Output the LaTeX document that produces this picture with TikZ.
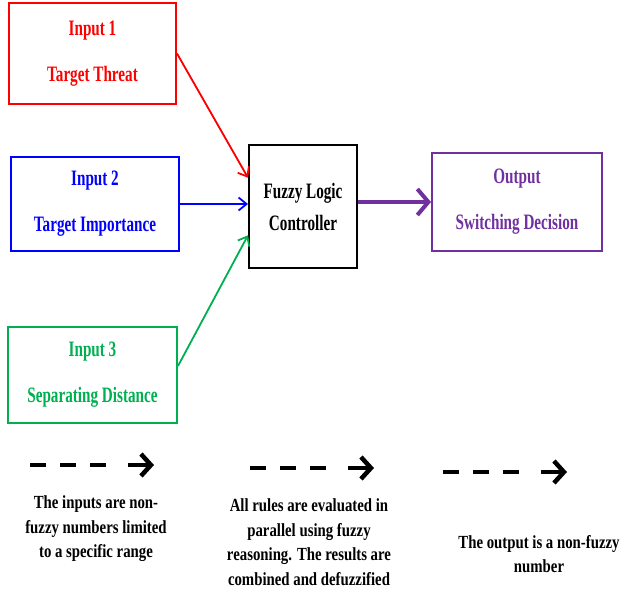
\documentclass[tikz,border=0pt]{standalone}
\usepackage{fontspec}
\setmainfont{Liberation Serif}
\newfontfamily\boxfont[FakeStretch=0.69]{Liberation Serif}
\newfontfamily\notefont[FakeStretch=0.80]{Liberation Serif}
\usetikzlibrary{arrows.meta,calc}
\definecolor{cred}{RGB}{255,0,0}
\definecolor{cblue}{RGB}{0,0,255}
\definecolor{cgreen}{RGB}{0,176,80}
\definecolor{cpurple}{RGB}{112,48,160}
\begin{document}
\begin{tikzpicture}[x=1pt,y=-1pt,
  box/.style={draw, line width=2pt, align=center, inner sep=0pt,
    font=\boxfont\bfseries\fontsize{22}{46}\selectfont},
  thinarrow/.style={line width=1.8pt, -{Straight Barb[length=8pt,width=13pt]}},
  outarrow/.style={line width=4pt, cpurple, -{Straight Barb[length=11pt,width=26pt,line width=4pt]}},
  dasharrow/.style={line width=4.5pt, dash pattern=on 16pt off 14pt on 16pt off 14pt on 16pt off 22pt on 40pt, -{Straight Barb[length=10pt,width=22pt]}},
  note/.style={align=center, inner sep=0pt, font=\notefont\bfseries\fontsize{18.5}{24.5}\selectfont}]
\useasboundingbox (0,0) rectangle (622,600);

\node[box, cred, minimum width=167pt, minimum height=101pt] (in1) at (92.5,53.5) {Input 1\\Target Threat};
\node[box, cblue, minimum width=168pt, minimum height=94pt] (in2) at (95,204) {Input 2\\Target Importance};
\node[box, cgreen, minimum width=169pt, minimum height=96pt] (in3) at (92.5,375) {Input 3\\Separating Distance};
\node[box, black, minimum width=108pt, minimum height=123pt,
  font=\boxfont\bfseries\fontsize{22}{32}\selectfont] (flc) at (303,206.5) {Fuzzy Logic\\Controller};
\node[box, cpurple, minimum width=170pt, minimum height=98pt] (out) at (517,202) {Output\\Switching Decision};

\draw[thinarrow, cred] (in1.east) -- ($(flc.north west)!0.27!(flc.south west)$);
\draw[thinarrow, cblue] (in2.east) -- (in2.east -| flc.west);
\draw[thinarrow, cgreen] ([yshift=9pt]in3.east) -- ($(flc.north west)!0.73!(flc.south west)$);
\draw[outarrow] (flc.east |- out.west) -- (out.west);

\coordinate (d1s) at (30,465);  \coordinate (d1e) at (154,465);
\coordinate (d2s) at (250,468); \coordinate (d2e) at (374,468);
\coordinate (d3s) at (443,472); \coordinate (d3e) at (567,472);
\draw[dasharrow] (d1s) -- (d1e);
\draw[dasharrow] (d2s) -- (d2e);
\draw[dasharrow] (d3s) -- (d3e);

\node[note] (n1) at (96,529) {The inputs are non-\\fuzzy numbers limited\\to a specific range};
\node[note] (n2) at (309,542) {All rules are evaluated in\\parallel using fuzzy\\reasoning. The results are\\combined and defuzzified};
\node[note] (n3) at (539,554) {The output is a non-fuzzy\\number};
\end{tikzpicture}
\end{document}
